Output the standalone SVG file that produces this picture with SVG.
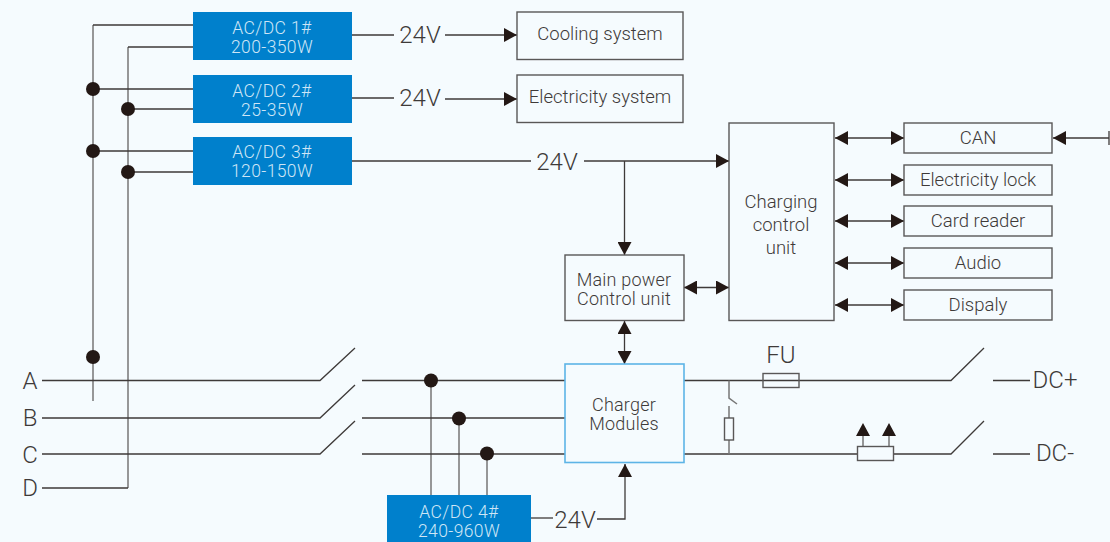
<svg xmlns="http://www.w3.org/2000/svg" width="1110" height="542" viewBox="0 0 1110 542">
<style>
text{font-family:Roboto,"Liberation Sans",sans-serif;font-weight:300;fill:#3e3a39;text-anchor:middle}
.w{fill:#cfe6f6;font-size:17.500px;letter-spacing:.4px}
.n{font-size:18.500px}
.m{font-size:18px;letter-spacing:.2px}
.v{font-size:24px}
.l{font-size:24px}
.b{fill:#0080cc}
.r{fill:none;stroke:#595757;stroke-width:1.4}
.c path{fill:none;stroke:#3e3a39;stroke-width:1.3}
.c path.g{stroke:#777;stroke-width:1.5}
.d{fill:#231815}
</style>
<defs>
<marker id="a" markerUnits="userSpaceOnUse" markerWidth="13" markerHeight="14" refX="13" refY="7" orient="auto-start-reverse"><path d="M0 0L13 7L0 14Z" fill="#231815"/></marker>
</defs>
<rect width="1110" height="542" fill="#f5fbfe"/>
<g id="connectors" class="c">
<path class="g" d="M93 25V401M128 47V488M431 380V495M459 418V495M487 453V495"/>
<path d="M193 25H93M193 47H128M128 488H42M93 89H193M128 109H193M93 151H193M128 172H193"/>
<path d="M352 35H394M352 98H394M352 161H531"/>
<path d="M445 35H517" marker-end="url(#a)"/>
<path d="M445 99H517" marker-end="url(#a)"/>
<path d="M584 161H729" marker-end="url(#a)"/>
<path d="M624.500 161V255" marker-end="url(#a)"/>
<path d="M684 287.500H729" marker-start="url(#a)" marker-end="url(#a)"/>
<path d="M624.500 321V364" marker-start="url(#a)" marker-end="url(#a)"/>
<path d="M835 138H904" marker-start="url(#a)" marker-end="url(#a)"/>
<path d="M835 180H904" marker-start="url(#a)" marker-end="url(#a)"/>
<path d="M835 221H904" marker-start="url(#a)" marker-end="url(#a)"/>
<path d="M835 263H904" marker-start="url(#a)" marker-end="url(#a)"/>
<path d="M835 305H904" marker-start="url(#a)" marker-end="url(#a)"/>
<path d="M1053 138H1109" marker-start="url(#a)"/>
<path d="M1109 131V145"/>
<path d="M42 380.500H320L355 348M362 380.500H565M42 418H320L355 385M362 418H565M42 454H320L355 421M362 454H565"/>
<path d="M531 518H553"/>
<path d="M597 519H625V464" marker-end="url(#a)"/>
<path d="M684 380.500H951L984 348M993 380.500H1030M684 454H951L984 421M993 454H1030"/>
<path class="g" d="M729 380.500V398L737 404M729 406V418M729 440V454"/>
<path class="g" d="M863 446V434M889 446V434"/>
</g>
<g class="d">
<circle cx="93" cy="89" r="7"/><circle cx="128" cy="109" r="7"/><circle cx="93" cy="151" r="7"/><circle cx="128" cy="172" r="7"/><circle cx="93" cy="357" r="7"/>
<circle cx="431" cy="380.500" r="7"/><circle cx="459" cy="418.500" r="7"/><circle cx="487" cy="453.500" r="7"/>
<path d="M863 423L870 436H856ZM889 423L896 436H882Z"/>
</g>
<g id="fuse"><rect x="763" y="373.500" width="36" height="14" fill="#f5fbfe" class="r"/></g>
<g id="resistor"><rect x="724.500" y="418" width="9" height="22" fill="#f5fbfe" stroke="#595757" stroke-width="1.4"/></g>
<g id="shunt"><rect x="857.500" y="446.500" width="36" height="14" fill="#f5fbfe" stroke="#595757" stroke-width="1.4"/></g>
<g id="acdc1"><rect class="b" x="193" y="12" width="159" height="48"/><text class="w" x="272" y="34">AC/DC 1#</text><text class="w" x="272" y="52.500">200-350W</text></g>
<g id="acdc2"><rect class="b" x="193" y="75" width="159" height="48"/><text class="w" x="272" y="97">AC/DC 2#</text><text class="w" x="272" y="115.500">25-35W</text></g>
<g id="acdc3"><rect class="b" x="193" y="137" width="159" height="48"/><text class="w" x="272" y="158">AC/DC 3#</text><text class="w" x="272" y="177">120-150W</text></g>
<g id="acdc4"><rect class="b" x="387" y="495" width="144" height="47"/><text class="w" x="459" y="518">AC/DC 4#</text><text class="w" x="459" y="536.500">240-960W</text></g>
<g id="cooling"><rect class="r" x="517" y="12" width="166" height="47.500"/><text class="n" x="600" y="40">Cooling system</text></g>
<g id="electricity"><rect class="r" x="517" y="75" width="166" height="47.500"/><text class="n" x="600" y="103">Electricity system</text></g>
<g id="main"><rect class="r" x="565" y="255" width="119" height="65.500"/><text class="m" x="624" y="285.500">Main power</text><text class="m" x="624" y="304.500">Control unit</text></g>
<g id="charging"><rect class="r" x="729" y="123" width="105" height="197.500"/><text class="n" x="781" y="208">Charging</text><text class="n" x="781" y="231">control</text><text class="n" x="781" y="254">unit</text></g>
<g id="can"><rect class="r" x="904" y="123" width="148" height="30"/><text class="n" x="978" y="144">CAN</text></g>
<g id="lock"><rect class="r" x="904" y="165" width="148" height="30"/><text class="n" x="978" y="186">Electricity lock</text></g>
<g id="card"><rect class="r" x="904" y="206" width="148" height="30"/><text class="n" x="978" y="227">Card reader</text></g>
<g id="audio"><rect class="r" x="904" y="248" width="148" height="30"/><text class="n" x="978" y="269">Audio</text></g>
<g id="display"><rect class="r" x="904" y="290" width="148" height="30"/><text class="n" x="978" y="311">Dispaly</text></g>
<g id="charger"><rect x="565" y="364" width="119" height="98.500" fill="#f5fbfe" stroke="#5db4e6" stroke-width="1.600"/><text class="m" x="624" y="411">Charger</text><text class="m" x="624" y="430">Modules</text></g>
<g id="labels">
<text class="v" x="420" y="43">24V</text><text class="v" x="420" y="106">24V</text><text class="v" x="557" y="170">24V</text><text class="v" x="575" y="528">24V</text>
<text class="l" x="30" y="389">A</text><text class="l" x="30" y="426">B</text><text class="l" x="30" y="463">C</text><text class="l" x="30" y="496">D</text>
<text class="l" x="781" y="363">FU</text><text class="l" x="1055" y="388">DC+</text><text class="l" x="1055" y="461">DC-</text>
</g>
</svg>
